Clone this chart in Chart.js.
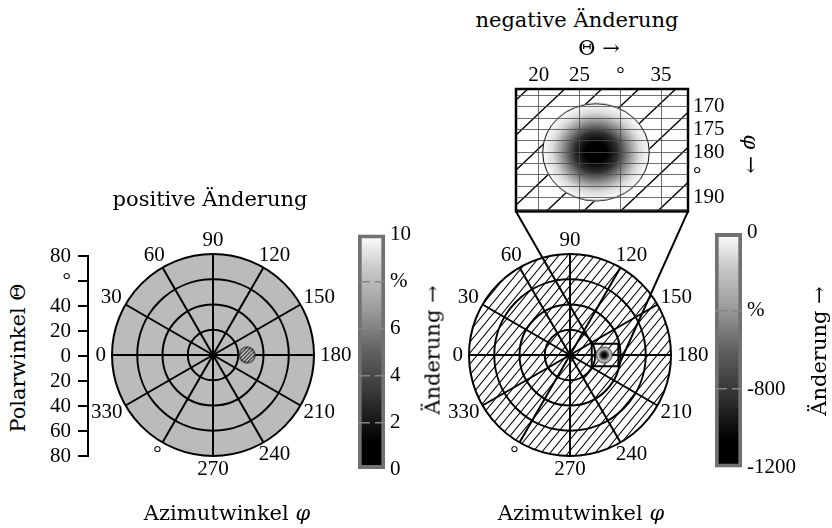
<!DOCTYPE html>
<html>
<head>
<meta charset="utf-8">
<script src="https://cdn.jsdelivr.net/npm/chart.js@4.4.1/dist/chart.umd.min.js"></script>
<style>
  body { margin: 0; width: 832px; height: 528px; background: #fff; position: relative; overflow: hidden; }
  canvas { position: absolute; }
  .lbl { position: absolute; font-family: "DejaVu Serif", serif; font-size: 21px; line-height: 1; white-space: nowrap; color: #000; transform: translate(-50%, -50%); }
  .up { transform: translate(-50%, -50%) rotate(-90deg); }
  .down { transform: translate(-50%, -50%) rotate(90deg); }
</style>
</head>
<body>
<canvas id="thetaAxis" width="60" height="240"></canvas>
<canvas id="posPolar" width="300" height="300"></canvas>
<canvas id="posBar" width="70" height="270"></canvas>
<canvas id="zoomInset" width="260" height="180"></canvas>
<canvas id="negPolar" width="300" height="300"></canvas>
<canvas id="negBar" width="90" height="270"></canvas>

<div class="lbl" style="left:210px;top:199px">positive Änderung</div>
<div class="lbl" style="left:577px;top:20px">negative Änderung</div>
<div class="lbl" style="left:599px;top:48px">Θ →</div>
<div class="lbl down" style="left:750px;top:154px"><i>φ</i> →</div>
<div class="lbl up" style="left:18px;top:358px">Polarwinkel Θ</div>
<div class="lbl up" style="left:433px;top:350px">Änderung →</div>
<div class="lbl up" style="left:819px;top:351px">Änderung →</div>
<div class="lbl" style="left:227px;top:513px">Azimutwinkel <i>φ</i></div>
<div class="lbl" style="left:581px;top:513px">Azimutwinkel <i>φ</i></div>

<script>
// azimuth spokes (φ, degrees) and their labels
const phiValues = [0, 30, 60, 90, 120, 150, 180, 210, 240, 270, 300, 330];
const phiLabels = ['0', '30', '60', '90', '120', '150', '180', '210', '240', '270', '°', '330'];
// polar angle rings and the side axis
const thetaRings = [20, 40, 60, 80];
const thetaAxisTicks = [-80, -60, -40, -20, 0, 20, 40, 60, 80];
const thetaAxisLabels = ['80', '60', '40', '20', '0', '20', '40', '°', '80'];
// colour bars
const posBarTicks = [0, 2, 4, 6, 8, 10];
const posBarLabels = ['0', '2', '4', '6', '%', '10'];
const negBarTicks = [-1200, -800, -400, 0];
const negBarLabels = ['-1200', '-800', '%', '0'];
// positive change: uniform level over the disk (%)
const positiveLevel = 8.0;
// negative change: one spot
const spotPhi = 180;
const spotTheta = 27;
const spotRadius = 6.6;     // Θ extent of the spot
const spotPhiHalf = 10.8;   // φ extent of the spot in the zoom
const spotProfileR = [0, 0.2, 0.4, 0.6, 0.8, 1];
const spotProfileV = [-1200, -1200, -850, -450, -120, 0];
// zoom window
const zoomThetaRange = [17.2, 38.3];
const zoomPhiRange = [166.1, 193];
const zoomThetaTicks = [20, 25, 30, 35];
const zoomThetaLabels = ['20', '25', '°', '35'];
const zoomPhiGrid = [167.5, 170, 172.5, 175, 177.5, 180, 182.5, 185, 187.5, 190, 192.5];
const zoomPhiTicks = [170, 175, 180, 185, 190];
const zoomPhiLabels = ['170', '175', '180', '°', '190'];
// grey colour map
const cmapStops = [0, 0.12, 0.33, 0.5, 0.67, 0.85, 1];
const cmapGray = [0, 0, 56, 96, 152, 200, 255];

// canvas placement (page px)
const place = {
  thetaAxis: [38, 236], posPolar: [63, 205], posBar: [358, 217],
  zoomInset: [496, 49], negPolar: [420, 205], negBar: [715, 215]
};
Object.keys(place).forEach(id => {
  const el = document.getElementById(id);
  el.style.left = place[id][0] + 'px';
  el.style.top = place[id][1] + 'px';
});

Chart.defaults.font.family = '"Liberation Serif", serif';
Chart.defaults.font.size = 21;
Chart.defaults.color = '#000';
Chart.defaults.animation = false;
Chart.defaults.responsive = false;
Chart.defaults.devicePixelRatio = 1;
Chart.defaults.plugins.legend.display = false;
Chart.defaults.plugins.tooltip.enabled = false;

function grayAt(t) {
  t = Math.max(0, Math.min(1, t));
  for (let i = 1; i < cmapStops.length; i++) {
    if (t <= cmapStops[i]) {
      const f = (t - cmapStops[i - 1]) / (cmapStops[i] - cmapStops[i - 1]);
      const g = Math.round(cmapGray[i - 1] + f * (cmapGray[i] - cmapGray[i - 1]));
      return `rgb(${g},${g},${g})`;
    }
  }
  return 'rgb(255,255,255)';
}
function valueGray(v, lo, hi) { return grayAt((v - lo) / (hi - lo)); }

function hatchPattern(canvasId, w, h, lw) {
  const t = document.createElement('canvas');
  t.width = w; t.height = h;
  const g = t.getContext('2d');
  g.fillStyle = '#fff';
  g.fillRect(0, 0, w, h);
  g.strokeStyle = '#000';
  g.lineWidth = lw;
  g.beginPath();
  g.moveTo(0, h); g.lineTo(w, 0);
  g.moveTo(-w, h); g.lineTo(w, -h);
  g.moveTo(0, 2 * h); g.lineTo(2 * w, 0);
  g.stroke();
  return document.getElementById(canvasId).getContext('2d').createPattern(t, 'repeat');
}

function gradientSpot(rx, ry) {
  const c = document.createElement('canvas');
  c.width = Math.ceil(rx * 2) + 2;
  c.height = Math.ceil(ry * 2) + 2;
  const g = c.getContext('2d');
  g.translate(c.width / 2, c.height / 2);
  g.save();
  g.scale(1, ry / rx);
  const grad = g.createRadialGradient(0, 0, 0, 0, 0, rx);
  spotProfileR.forEach((r, i) => grad.addColorStop(r, valueGray(spotProfileV[i], -1200, 0)));
  g.fillStyle = grad;
  g.beginPath(); g.arc(0, 0, rx, 0, Math.PI * 2); g.fill();
  g.restore();
  g.strokeStyle = '#000';
  g.lineWidth = 1;
  g.beginPath(); g.ellipse(0, 0, rx - 0.5, ry - 0.5, 0, 0, Math.PI * 2); g.stroke();
  return c;
}

function hatchedSpot(r) {
  const c = document.createElement('canvas');
  c.width = c.height = Math.ceil(r * 2) + 2;
  const g = c.getContext('2d');
  const m = c.width / 2;
  g.save();
  g.beginPath(); g.arc(m, m, r, 0, Math.PI * 2); g.clip();
  g.fillStyle = '#fff'; g.fillRect(0, 0, c.width, c.height);
  g.strokeStyle = '#000'; g.lineWidth = 1.3;
  g.beginPath();
  for (let k = -c.width; k < 2 * c.width; k += 3.8) { g.moveTo(k, c.height); g.lineTo(k + c.height, 0); }
  g.stroke();
  g.restore();
  g.lineWidth = 1;
  g.beginPath(); g.arc(m, m, r - 0.5, 0, Math.PI * 2); g.stroke();
  return c;
}

const ok = v => Number.isFinite(v) && v > 0;

// angle labels placed just outside the outer ring
const angleLabels = {
  id: 'angleLabels',
  afterDraw(chart) {
    const s = chart.scales.r, ctx = chart.ctx;
    ctx.save();
    ctx.font = '21px "Liberation Serif"';
    ctx.fillStyle = '#000';
    ctx.textAlign = 'center';
    ctx.textBaseline = 'middle';
    chart.data.labels.forEach((lab, i) => {
      const a = s.getIndexAngle(i) - Math.PI / 2;
      const w = ctx.measureText(lab).width;
      const p = s.getPointPosition(i, s.drawingArea + 6);
      ctx.fillText(lab, p.x + Math.cos(a) * w / 2, p.y + Math.sin(a) * 7.5);
    });
    ctx.restore();
  }
};

function polarChart(id, bg, spotStyle, extra) {
  return new Chart(document.getElementById(id), {
    type: 'radar',
    data: {
      labels: phiLabels,
      datasets: [{
        data: phiValues.map(p => p === spotPhi ? spotTheta : null),
        showLine: false,
        fill: false,
        pointStyle: spotStyle
      }]
    },
    options: {
      layout: { padding: 49 },
      scales: {
        r: {
          min: 0, max: 80, startAngle: -90,
          backgroundColor: bg,
          afterBuildTicks: s => { s.ticks = [0].concat(thetaRings).map(v => ({ value: v })); },
          ticks: { display: false },
          pointLabels: { display: false },
          grid: { circular: true, color: '#000', lineWidth: 2 },
          angleLines: { color: '#000', lineWidth: 2 }
        }
      }
    },
    plugins: [angleLabels].concat(extra || [])
  });
}

// ---- left side axis (Θ) ----
new Chart(document.getElementById('thetaAxis'), {
  type: 'scatter',
  data: { datasets: [] },
  options: {
    layout: { padding: { top: 20, bottom: 20, left: 0, right: 0 } },
    scales: {
      x: { display: false },
      y: {
        min: -80, max: 80,
        afterBuildTicks: s => { s.ticks = thetaAxisTicks.map(v => ({ value: v })); },
        afterFit: s => { s.width = 50; },
        ticks: { padding: 7, autoSkip: false, callback: v => thetaAxisLabels[thetaAxisTicks.indexOf(v)] },
        grid: { drawOnChartArea: false, tickLength: 10, color: '#000', lineWidth: 2 },
        border: { color: '#000', width: 2 }
      }
    }
  }
});

// ---- positive change polar map ----
let posSpotCache = null;
polarChart('posPolar', valueGray(positiveLevel, 0, 10), c => {
  const r = c.chart.scales.r.getDistanceFromCenterForValue(spotRadius);
  if (!ok(r)) return 'circle';
  if (!posSpotCache) posSpotCache = hatchedSpot(r);
  return posSpotCache;
});

// ---- colour bars ----
function colorBar(id, lo, hi, ticks, labels, axisWidth) {
  return new Chart(document.getElementById(id), {
    type: 'bar',
    data: {
      labels: [''],
      datasets: [{
        data: [[lo, hi]],
        backgroundColor: c => {
          const ch = c.chart;
          if (!ch.chartArea) return '#888';
          const y = ch.scales.y;
          const g = ch.ctx.createLinearGradient(0, y.getPixelForValue(lo), 0, y.getPixelForValue(hi));
          cmapStops.forEach(t => g.addColorStop(t, grayAt(t)));
          return g;
        },
        borderColor: '#717171',
        borderWidth: 4,
        borderSkipped: false,
        barPercentage: 1,
        categoryPercentage: 1
      }]
    },
    options: {
      layout: { padding: { top: 10, bottom: 10, left: 0, right: 0 } },
      scales: {
        x: { display: false },
        y: {
          position: 'right', min: lo, max: hi,
          afterBuildTicks: s => { s.ticks = ticks.map(v => ({ value: v })); },
          afterFit: s => { s.width = axisWidth; },
          ticks: { padding: 5, autoSkip: false, callback: v => labels[ticks.indexOf(v)] },
          grid: {
            drawTicks: false, z: 1, lineWidth: 1.5,
            color: c => (c.tick && (c.tick.value === lo || c.tick.value === hi)) ? 'rgba(0,0,0,0)' : '#858585'
          },
          border: { display: false, dash: [12, 5] }
        }
      }
    }
  });
}
colorBar('posBar', posBarTicks[0], posBarTicks[posBarTicks.length - 1], posBarTicks, posBarLabels, 43);
colorBar('negBar', negBarTicks[0], negBarTicks[negBarTicks.length - 1], negBarTicks, negBarLabels, 63);

// ---- zoom inset ----
const insetHatch = hatchPattern('zoomInset', 37, 35, 1.3);
let insetSpotCache = null;
const insetFrame = {
  id: 'insetFrame',
  beforeDatasetsDraw(chart) {
    const a = chart.chartArea, ctx = chart.ctx;
    ctx.save();
    ctx.fillStyle = insetHatch;
    ctx.fillRect(a.left, a.top, a.right - a.left, a.bottom - a.top);
    ctx.restore();
  },
  afterDraw(chart) {
    const a = chart.chartArea, ctx = chart.ctx;
    ctx.save();
    ctx.strokeStyle = '#000';
    ctx.lineWidth = 2.5;
    ctx.strokeRect(a.left, a.top, a.right - a.left, a.bottom - a.top);
    ctx.restore();
  }
};
const insetChart = new Chart(document.getElementById('zoomInset'), {
  type: 'scatter',
  data: {
    datasets: [{
      data: [{ x: spotTheta, y: spotPhi }],
      pointStyle: c => {
        if (!insetSpotCache) {
          const x = c.chart.scales.x, y = c.chart.scales.y;
          if (!x || !y) return 'circle';
          const rx = Math.abs(x.getPixelForValue(spotTheta + spotRadius) - x.getPixelForValue(spotTheta));
          const ry = Math.abs(y.getPixelForValue(spotPhi + spotPhiHalf) - y.getPixelForValue(spotPhi));
          if (!ok(rx) || !ok(ry)) return 'circle';
          insetSpotCache = gradientSpot(rx, ry);
        }
        return insetSpotCache;
      }
    }]
  },
  options: {
    layout: { padding: { left: 20, bottom: 16, top: 0, right: 0 } },
    scales: {
      x: {
        type: 'linear', position: 'top', min: zoomThetaRange[0], max: zoomThetaRange[1],
        afterBuildTicks: s => { s.ticks = zoomThetaTicks.map(v => ({ value: v })); },
        afterFit: s => { s.height = 40; },
        ticks: { padding: 1, maxRotation: 0, autoSkip: false, callback: v => zoomThetaLabels[zoomThetaTicks.indexOf(v)] },
        grid: { drawTicks: false, color: '#4a4a4a', lineWidth: 0.8, z: 1 },
        border: { display: false }
      },
      y: {
        type: 'linear', position: 'right', reverse: true, min: zoomPhiRange[0], max: zoomPhiRange[1],
        afterBuildTicks: s => { s.ticks = zoomPhiGrid.map(v => ({ value: v })); },
        afterFit: s => { s.width = 68; },
        ticks: {
          padding: 5, autoSkip: false,
          callback: v => { const i = zoomPhiTicks.indexOf(v); return i < 0 ? '' : zoomPhiLabels[i]; }
        },
        grid: { drawTicks: false, color: '#4a4a4a', lineWidth: 0.8, z: 1 },
        border: { display: false }
      }
    }
  },
  plugins: [insetFrame]
});

// ---- negative change polar map ----
const zoomMarker = {
  id: 'zoomMarker',
  afterDraw(chart) {
    const s = chart.scales.r, ctx = chart.ctx;
    const d0 = s.getDistanceFromCenterForValue(zoomThetaRange[0]);
    const d1 = s.getDistanceFromCenterForValue(zoomThetaRange[1]);
    const half = d1 * Math.sin((zoomPhiRange[1] - zoomPhiRange[0]) / 2 * Math.PI / 180);
    const x0 = s.xCenter + d0, x1 = s.xCenter + d1;
    const yt = s.yCenter - half, yb = s.yCenter + half;
    const ia = insetChart.chartArea;
    const dx = place.zoomInset[0] - place.negPolar[0];
    const dy = place.zoomInset[1] - place.negPolar[1];
    ctx.save();
    ctx.strokeStyle = '#000';
    ctx.lineWidth = 2;
    ctx.strokeRect(x0, yt, x1 - x0, yb - yt);
    ctx.beginPath();
    ctx.moveTo(ia.left + dx, ia.bottom + dy); ctx.lineTo(x0, yt);
    ctx.moveTo(ia.right + dx, ia.bottom + dy); ctx.lineTo(x1, yb);
    ctx.stroke();
    ctx.restore();
  }
};
let negSpotCache = null;
polarChart('negPolar', hatchPattern('negPolar', 9, 11, 1.1), c => {
  const r = c.chart.scales.r.getDistanceFromCenterForValue(spotRadius);
  if (!ok(r)) return 'circle';
  if (!negSpotCache) negSpotCache = gradientSpot(r, r);
  return negSpotCache;
}, [zoomMarker]);
</script>
</body>
</html>
